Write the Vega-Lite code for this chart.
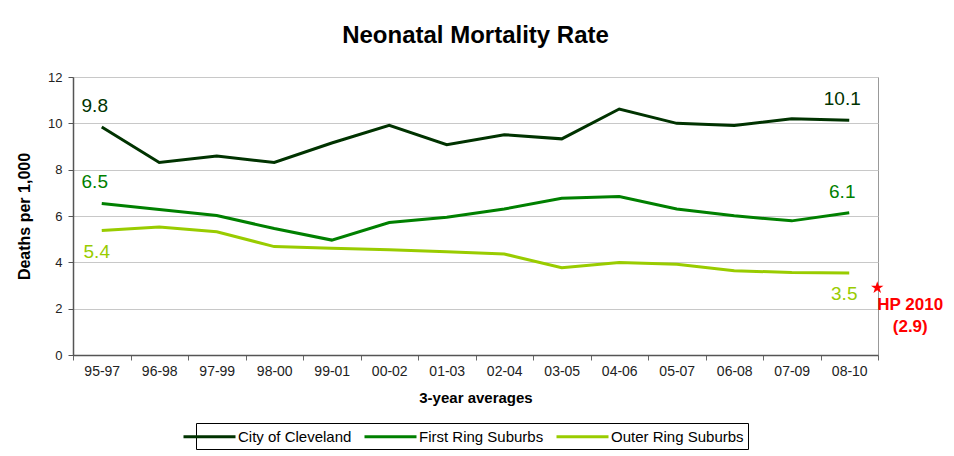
{
  "$schema": "https://vega.github.io/schema/vega-lite/v6.json",
  "width": 805,
  "height": 278,
  "autosize": {"type": "none"},
  "padding": {"left": 73, "top": 77, "right": 76, "bottom": 101},
  "background": "white",
  "title": {"text": "Neonatal Mortality Rate", "font": "Liberation Sans", "fontSize": 24, "fontWeight": "bold", "color": "#000000", "offset": 23, "anchor": "middle"},
  "config": {"view": {"stroke": "#999999", "strokeWidth": 1}, "font": "Liberation Sans"},
  "datasets": {
    "rates": [
      {"period": "95-97", "series": "City of Cleveland", "value": 9.84},
      {"period": "96-98", "series": "City of Cleveland", "value": 8.31},
      {"period": "97-99", "series": "City of Cleveland", "value": 8.59},
      {"period": "98-00", "series": "City of Cleveland", "value": 8.31},
      {"period": "99-01", "series": "City of Cleveland", "value": 9.15},
      {"period": "00-02", "series": "City of Cleveland", "value": 9.91},
      {"period": "01-03", "series": "City of Cleveland", "value": 9.08},
      {"period": "02-04", "series": "City of Cleveland", "value": 9.51},
      {"period": "03-05", "series": "City of Cleveland", "value": 9.33},
      {"period": "04-06", "series": "City of Cleveland", "value": 10.62},
      {"period": "05-07", "series": "City of Cleveland", "value": 10.0},
      {"period": "06-08", "series": "City of Cleveland", "value": 9.91},
      {"period": "07-09", "series": "City of Cleveland", "value": 10.2},
      {"period": "08-10", "series": "City of Cleveland", "value": 10.13},
      {"period": "95-97", "series": "First Ring Suburbs", "value": 6.54},
      {"period": "96-98", "series": "First Ring Suburbs", "value": 6.28},
      {"period": "97-99", "series": "First Ring Suburbs", "value": 6.02},
      {"period": "98-00", "series": "First Ring Suburbs", "value": 5.46},
      {"period": "99-01", "series": "First Ring Suburbs", "value": 4.96},
      {"period": "00-02", "series": "First Ring Suburbs", "value": 5.72},
      {"period": "01-03", "series": "First Ring Suburbs", "value": 5.95},
      {"period": "02-04", "series": "First Ring Suburbs", "value": 6.3},
      {"period": "03-05", "series": "First Ring Suburbs", "value": 6.77},
      {"period": "04-06", "series": "First Ring Suburbs", "value": 6.84},
      {"period": "05-07", "series": "First Ring Suburbs", "value": 6.3},
      {"period": "06-08", "series": "First Ring Suburbs", "value": 6.01},
      {"period": "07-09", "series": "First Ring Suburbs", "value": 5.79},
      {"period": "08-10", "series": "First Ring Suburbs", "value": 6.14},
      {"period": "95-97", "series": "Outer Ring Suburbs", "value": 5.37},
      {"period": "96-98", "series": "Outer Ring Suburbs", "value": 5.52},
      {"period": "97-99", "series": "Outer Ring Suburbs", "value": 5.32},
      {"period": "98-00", "series": "Outer Ring Suburbs", "value": 4.68},
      {"period": "99-01", "series": "Outer Ring Suburbs", "value": 4.61},
      {"period": "00-02", "series": "Outer Ring Suburbs", "value": 4.54},
      {"period": "01-03", "series": "Outer Ring Suburbs", "value": 4.46},
      {"period": "02-04", "series": "Outer Ring Suburbs", "value": 4.36},
      {"period": "03-05", "series": "Outer Ring Suburbs", "value": 3.77},
      {"period": "04-06", "series": "Outer Ring Suburbs", "value": 3.99},
      {"period": "05-07", "series": "Outer Ring Suburbs", "value": 3.92},
      {"period": "06-08", "series": "Outer Ring Suburbs", "value": 3.64},
      {"period": "07-09", "series": "Outer Ring Suburbs", "value": 3.56},
      {"period": "08-10", "series": "Outer Ring Suburbs", "value": 3.54}
    ],
    "target": [
      {"period": "08-10", "value": 2.9, "label": "HP 2010"}
    ]
  },
  "layer": [
    {
      "data": {"name": "rates"},
      "mark": {"type": "line", "strokeWidth": 3},
      "encoding": {
        "x": {
          "field": "period", "type": "ordinal", "bandPosition": 0.5,
          "scale": {"type": "band", "paddingInner": 0, "paddingOuter": 0, "domain": ["95-97","96-98","97-99","98-00","99-01","00-02","01-03","02-04","03-05","04-06","05-07","06-08","07-09","08-10"]},
          "axis": {"title": "3-year averages", "titleFontSize": 15, "titleFontWeight": "bold", "titleColor": "#000000", "titlePadding": 12, "labelAngle": 0, "labelFontSize": 14, "labelColor": "#222222", "labelPadding": 4, "tickBand": "extent", "tickSize": 5, "tickColor": "#666666", "domainColor": "#555555", "domainWidth": 1.5, "grid": false}
        },
        "y": {
          "field": "value", "type": "quantitative",
          "scale": {"domain": [0, 12]},
          "axis": {"title": "Deaths per 1,000", "titleFontSize": 16, "titleFontWeight": "bold", "titleColor": "#000000", "titlePadding": 15, "values": [0, 2, 4, 6, 8, 10, 12], "tickSize": 5, "tickColor": "#555555", "domainColor": "#555555", "domainWidth": 1.5, "labelFontSize": 13, "labelColor": "#222222", "labelPadding": 6, "gridColor": "#c8c8c8"}
        },
        "color": {
          "field": "series", "type": "nominal",
          "scale": {"domain": ["City of Cleveland", "First Ring Suburbs", "Outer Ring Suburbs"], "range": ["#003300", "#008000", "#99cc00"]},
          "legend": {"orient": "none", "legendX": 123, "legendY": 346, "direction": "horizontal", "title": null, "symbolType": "M-3.25,0L3.25,0", "symbolSize": 256, "symbolStrokeWidth": 3, "symbolFillColor": "transparent", "labelFontSize": 15, "labelColor": "#000000", "strokeColor": "#000000", "fillColor": "white", "padding": 4, "columnPadding": 6, "labelOffset": 19}
        }
      }
    },
    {
      "data": {"name": "rates"},
      "transform": [
        {"filter": {"field": "period", "oneOf": ["95-97", "08-10"]}},
        {"filter": {"field": "series", "oneOf": ["City of Cleveland", "First Ring Suburbs"]}}
      ],
      "mark": {"type": "text", "fontSize": 19, "dy": -21, "dx": -7},
      "encoding": {
        "x": {"field": "period", "type": "ordinal", "bandPosition": 0.5},
        "y": {"field": "value", "type": "quantitative"},
        "text": {"field": "value", "type": "quantitative", "format": ".1f"},
        "color": {"field": "series", "type": "nominal", "legend": null}
      }
    },
    {
      "data": {"name": "rates"},
      "transform": [
        {"filter": {"field": "period", "oneOf": ["95-97", "08-10"]}},
        {"filter": {"field": "series", "equal": "Outer Ring Suburbs"}}
      ],
      "mark": {"type": "text", "fontSize": 19, "dy": 21, "dx": -5},
      "encoding": {
        "x": {"field": "period", "type": "ordinal", "bandPosition": 0.5},
        "y": {"field": "value", "type": "quantitative"},
        "text": {"field": "value", "type": "quantitative", "format": ".1f"},
        "color": {"field": "series", "type": "nominal", "legend": null}
      }
    },
    {
      "data": {"name": "target"},
      "mark": {"type": "point", "shape": "M0,-1L0.2245,-0.309L0.951,-0.309L0.363,0.118L0.588,0.809L0,0.382L-0.588,0.809L-0.363,0.118L-0.951,-0.309L-0.2245,-0.309Z", "filled": true, "color": "#ff0000", "opacity": 1, "size": 170, "xOffset": 28},
      "encoding": {
        "x": {"field": "period", "type": "ordinal", "bandPosition": 0.5},
        "y": {"field": "value", "type": "quantitative"}
      }
    },
    {
      "data": {"name": "target"},
      "mark": {"type": "text", "text": ["HP 2010", "(2.9)"], "fontSize": 17, "fontWeight": "bold", "color": "#ff0000", "baseline": "top", "align": "center", "dx": 61, "dy": 9, "lineHeight": 22},
      "encoding": {
        "x": {"field": "period", "type": "ordinal", "bandPosition": 0.5},
        "y": {"field": "value", "type": "quantitative"}
      }
    }
  ]
}
